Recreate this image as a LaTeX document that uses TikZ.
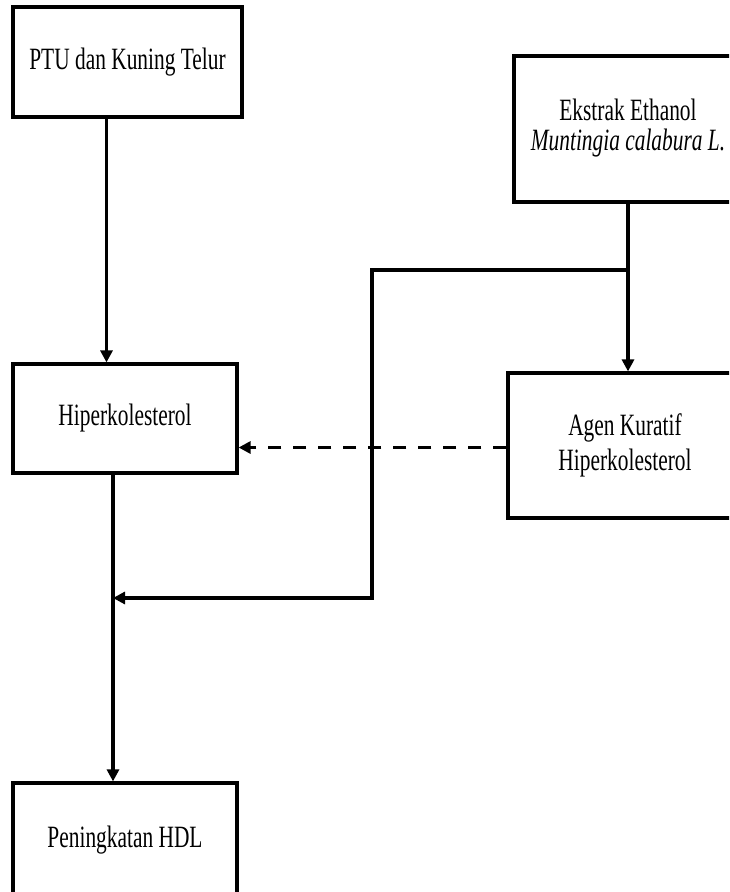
\documentclass[tikz,border=0pt]{standalone}
\usepackage{fontspec}
\usepackage{graphicx}
\setmainfont{Liberation Serif}
\usetikzlibrary{arrows.meta}
\newcommand{\sqtext}[2][-5pt]{\raisebox{#1}{\scalebox{0.69}[1]{\begin{tabular}{@{}c@{}}#2\end{tabular}}}}
\begin{document}
\begin{tikzpicture}[x=1pt,y=-1pt,
  box/.style={draw,line width=3.2pt,inner sep=0pt,align=center,font=\fontsize{31}{35}\selectfont},
  conn/.style={line width=3.2pt},
  arr/.style={conn,-{Triangle[length=12pt,width=12pt]}},
  dasharr/.style={arr,dash pattern=on 13pt off 12pt}]
\useasboundingbox (0,0) rectangle (729,892);
\clip (0,0) rectangle (729,892);
\node[box,minimum width=229pt,minimum height=110pt] (ptu) at (127.5,62) {\sqtext{PTU dan Kuning Telur}};
\node[box,minimum width=228pt,minimum height=146pt,font=\fontsize{31}{28.5}\selectfont] (eks) at (628,129) {\sqtext[-3pt]{Ekstrak Ethanol\\\textit{Muntingia calabura L.}}};
\node[box,minimum width=224pt,minimum height=109pt] (hip) at (125,418.5) {\sqtext{Hiperkolesterol}};
\node[box,minimum width=234pt,minimum height=145pt] (agen) at (625,445.5) {\sqtext{Agen Kuratif\\Hiperkolesterol}};
\node[box,minimum width=224pt,minimum height=114pt] (hdl) at (125,840) {\sqtext{Peningkatan HDL}};
\coordinate (j1) at (eks.south |- 0,270);
\coordinate (j2) at (372,270);
\coordinate (j3) at (372,598);
\coordinate (j4) at (113,598);
\draw[arr] ([xshift=-21pt]ptu.south) -- ([xshift=-18.5pt]hip.north);
\draw[arr] (eks.south) -- (agen.north -| eks.south);
\draw[arr] (j1) -- (j2) -- (j3) -- (j4);
\draw[dasharr] ([yshift=-2pt]agen.west) -- ([yshift=-2pt]agen.west -| hip.east);
\draw[arr] ([xshift=-12pt]hip.south) -- ([xshift=-12pt]hdl.north);
\end{tikzpicture}
\end{document}
